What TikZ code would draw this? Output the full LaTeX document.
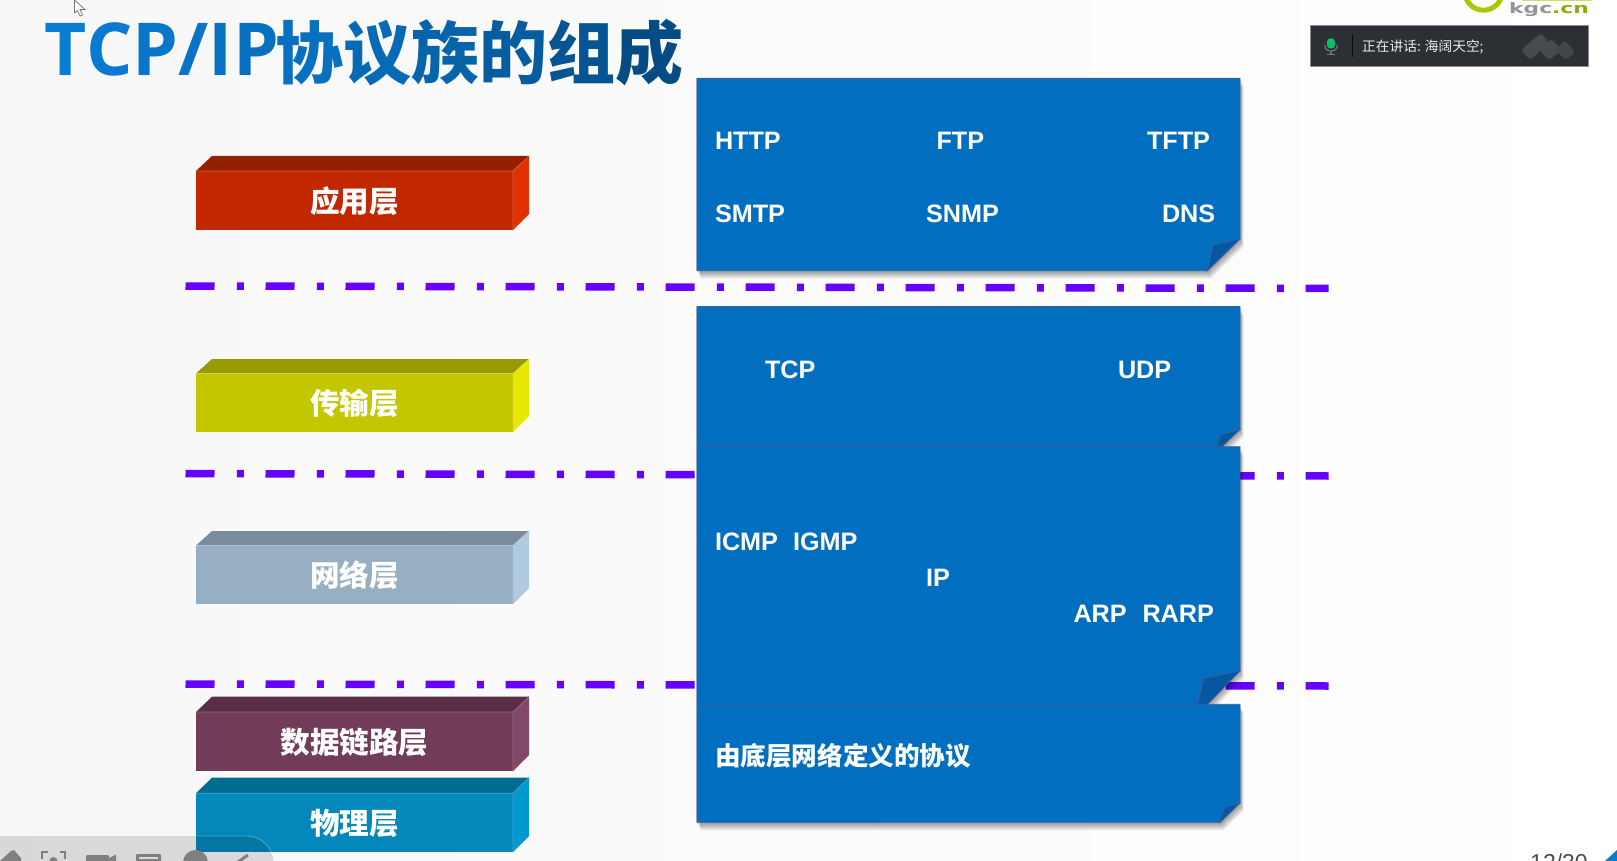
\documentclass[tikz,border=0pt]{standalone}
\usepackage{fontspec}
\usepackage{graphicx}
\setmainfont{Liberation Sans}
\newfontfamily\cjk{Noto Sans CJK SC}
\newfontfamily\headfont{Open Sans}
\newfontfamily\logofont{DejaVu Sans}

\definecolor{noteblue}{HTML}{026EC0}
\definecolor{noteedge}{HTML}{3C5FA0}
\definecolor{notefold}{HTML}{05589F}
\definecolor{ruleviolet}{HTML}{6600FF}
\definecolor{appF}{HTML}{C12800}\definecolor{appT}{HTML}{942000}\definecolor{appR}{HTML}{E23000}
\definecolor{traF}{HTML}{C3C700}\definecolor{traT}{HTML}{979A00}\definecolor{traR}{HTML}{E6E800}
\definecolor{netF}{HTML}{97AFC2}\definecolor{netT}{HTML}{7B8D9C}\definecolor{netR}{HTML}{B0CADF}
\definecolor{lnkF}{HTML}{723B57}\definecolor{lnkT}{HTML}{5A2F45}\definecolor{lnkR}{HTML}{824868}
\definecolor{phyF}{HTML}{0487BA}\definecolor{phyT}{HTML}{006B90}\definecolor{phyR}{HTML}{0299CE}
\definecolor{logogreen}{HTML}{A8C800}
\definecolor{panel}{HTML}{2C2F33}
\definecolor{panelmark}{HTML}{484B4E}
\definecolor{micgreen}{HTML}{0CC06A}
\definecolor{t1}{HTML}{0A7ED2}\definecolor{t2}{HTML}{097AD0}\definecolor{t3}{HTML}{0877CB}
\definecolor{t4}{HTML}{0874C6}\definecolor{t5}{HTML}{0772C4}\definecolor{t6}{HTML}{0770C0}
\definecolor{t7}{HTML}{066AB6}\definecolor{t8}{HTML}{0664AB}\definecolor{t9}{HTML}{055C9F}
\definecolor{t10}{HTML}{055493}\definecolor{t11}{HTML}{054C84}

\tikzset{
  x=1pt, y=-1pt,
  lbl/.style={inner sep=0pt, outer sep=0pt, anchor=base west, text=white,
    font=\fontsize{25.2}{25.2}\selectfont\bfseries},
  cjklbl/.style={inner sep=0pt, outer sep=0pt, anchor=base, text=white,
    font=\fontsize{29.6}{29.6}\selectfont\cjk\bfseries},
  layerrule/.style={draw=ruleviolet, line width=7.5pt,
    dash pattern=on 29pt off 22.4pt on 7pt off 21.6pt},
  icon/.style={fill=black!50}
}

% three-dimensional bar: name, top, front top, bottom, colour prefix, label
\newcommand{\layerbar}[6]{%
  \fill[#5T] (196,#3) -- (212,#2) -- (529,#2) -- (513,#3) -- cycle;
  \fill[#5R] (513,#3) -- (529,#2) -- (529,{#4-16}) -- (513,#4) -- cycle;
  \fill[#5F] (196,#3) rectangle (513,#4);
  \draw[#5F!75!white, line width=.7pt] (196,#3) -- (513,#3) -- (513,#4) (513,#3) -- (529,#2);
  \node[cjklbl] (#1) at (354.5,{(#3+#4)/2+12}) {#6};
}

% note sheet with a curled corner: top, right edge end, bottom, corner x on the
% bottom edge, fold inner x, fold inner y, fold foot x
\newcommand{\notesheet}[7]{%
  \foreach \d in {1,...,8}
    \fill[black, opacity=.055, shift={({\d*.45},\d)}]
      (697,#1) -- (1240,#1) -- (1240,#2) -- (#4,#3) -- (697,#3) -- cycle;
  \fill[black, opacity=.18, shift={(-1.5,0)}] (697,#1) rectangle (699,#3);
  \filldraw[fill=noteblue, draw=noteedge, line width=.8pt]
    (697,#1) -- (1240,#1) -- (1240,#2) -- (#4,#3) -- (697,#3) -- cycle;
  \filldraw[fill=notefold, draw=noteedge, line width=.8pt]
    (1240,#2) -- (#5,#6) -- (#7,#3) -- (#4,#3) -- cycle;
}

\begin{document}
\begin{tikzpicture}
\useasboundingbox (0,0) rectangle (1617,861);
\clip (0,0) rectangle (1617,861);

% page background
\shade[left color=black!3, right color=white] (0,0) rectangle (1617,861);

% heading
\node[inner sep=0pt, anchor=base west, font=\fontsize{73}{73}\selectfont\headfont\bfseries] (headlatin) at (44,76)
  {\textcolor{t1}{T}\textcolor{t2}{C}\textcolor{t3}{P}\textcolor{t4}{/}\textcolor{t5}{I}\textcolor{t6}{P}};
\node[inner sep=0pt, anchor=base west, font=\fontsize{68}{68}\selectfont\cjk\bfseries] (headcjk) at (275,79)
  {\textcolor{t6}{协}\textcolor{t7}{议}\textcolor{t8}{族}\textcolor{t9}{的}\textcolor{t10}{组}\textcolor{t11}{成}};

% pointer
\filldraw[fill=white, draw=black!55, line width=.7pt]
  (74.5,0) -- (74.5,13) -- (77.5,10.5) -- (80,16) -- (82.5,15) -- (80,9.5) -- (85,9.5) -- cycle;

% layer bars
\layerbar{app}{156}{171}{230}{app}{应用层}
\layerbar{tra}{359}{373.5}{432}{tra}{传输层}
\layerbar{net}{531}{545.5}{604}{net}{网络层}
\layerbar{lnk}{696.7}{712}{771}{lnk}{数据链路层}
\layerbar{phy}{777.7}{793.3}{852}{phy}{物理层}

% separators between the layers
\coordinate (ruleAa) at (185.5,286);   \coordinate (ruleAb) at (1328.7,288.4);
\coordinate (ruleBa) at (185.5,473.6); \coordinate (ruleBb) at (1328.7,476);
\coordinate (ruleCa) at (185.5,684);   \coordinate (ruleCb) at (1328.7,686);
\draw[layerrule] (ruleAa) -- (ruleAb);
\draw[layerrule] (ruleBa) -- (ruleBb);
\draw[layerrule] (ruleCa) -- (ruleCb);

% protocol sheets, stacked from top to bottom
\notesheet{78.4}{238.7}{270.7}{1207.3}{1212.7}{245}{1207.3}
\notesheet{306.5}{429.3}{446.7}{1221.7}{1220}{435}{1216.7}
\notesheet{446.7}{670.7}{704.3}{1207.3}{1203.3}{678.3}{1197.7}
\notesheet{704.3}{802.7}{822.3}{1220}{1224}{807.3}{1220}

\node[lbl] (http) at (715,149.7) {HTTP};
\node[lbl] (ftp)  at (936.5,149.7) {FTP};
\node[lbl] (tftp) at (1147,149.7) {TFTP};
\node[lbl] (smtp) at (715,223) {SMTP};
\node[lbl] (snmp) at (926,223) {SNMP};
\node[lbl] (dns)  at (1162,223) {DNS};
\node[lbl] (tcp)  at (765,378) {TCP};
\node[lbl] (udp)  at (1118,378) {UDP};
\node[lbl] (icmp) at (715,550.4) {ICMP};
\node[lbl] (igmp) at (793,550.4) {IGMP};
\node[lbl] (ip)   at (926,586.5) {IP};
\node[lbl] (arp)  at (1073.5,622.6) {ARP};
\node[lbl] (rarp) at (1142.5,622.6) {RARP};
\node[lbl, font=\fontsize{25.6}{25.6}\selectfont\cjk\bfseries] (lower) at (715,765) {由底层网络定义的协议};

% logo in the corner
\draw[logogreen, line width=5pt] (1483.5,-8.6) circle[radius=18.8];
\fill[logogreen, opacity=.6] (1523,0) rectangle (1592,.8);
\node[inner sep=0pt, anchor=base west, font=\fontsize{14.5}{14.5}\selectfont\logofont\bfseries] (logotext) at (1509,13.3)
  {\scalebox{1.5}[1]{\textcolor{black!42}{kgc}\textcolor{logogreen!85!black}{.cn}}};

% speaker indicator
\filldraw[fill=panel, draw=black!45, line width=.6pt] (1310.7,25.3) rectangle (1588.3,66.7);
\draw[black!55, line width=1.2pt] (1325,45) -- (1325,46) .. controls (1325,53) and (1337,53) .. (1337,46) -- (1337,45);
\draw[black!55, line width=1.2pt] (1331,51) -- (1331,54) (1327,54.5) -- (1335,54.5);
\fill[micgreen, rounded corners=3.5pt] (1327,38.3) rectangle (1335,48.5);
\draw[black!95, line width=1pt] (1352,35) -- (1352,56.7);
\node[inner sep=0pt, anchor=west, text=white!92!black, font=\fontsize{13.7}{13.7}\selectfont\cjk] (speaker) at (1362,46.7) {正在讲话: 海阔天空;};
\fill[panelmark, rounded corners=3pt] (1541,33) -- (1549,43) -- (1530,60) -- (1521,50) -- cycle;
\fill[panelmark, rounded corners=3pt] (1551,39) -- (1562,50) -- (1549,60) -- (1539,50) -- cycle;
\fill[panelmark!85!panel, rounded corners=3pt] (1565,40) -- (1575,52) -- (1566,60) -- (1555,50) -- cycle;

% slide counter and corner mark
\node[inner sep=0pt, anchor=base west, text=black!70, font=\fontsize{23}{23}\selectfont] (counter) at (1530,870) {12/30};
\fill[t2] (1605,861) -- (1617,850) -- (1617,861) -- cycle;

% presenter toolbar
\fill[black, opacity=.12] (0,836) -- (246,836) .. controls (262,836) and (272,848) .. (274,861) -- (0,861) -- cycle;
\draw[white, opacity=.3, line width=.8pt] (196,836) -- (246,836) .. controls (262,836) and (272,848) .. (274,861);
\fill[icon] (0,861) -- (11,851) -- (14,850) -- (21,858) -- (21,861) -- cycle;
\draw[black!50, line width=2.4pt] (42,859) -- (42,852) -- (48,852) (60,852) -- (65,852) -- (65,859);
\fill[icon] (53.5,861) circle[radius=4];
\fill[icon, rounded corners=1pt] (86,855) rectangle (109,866);
\fill[icon] (109,858) -- (116,854.5) -- (116,866) -- (109,866) -- cycle;
\fill[icon, rounded corners=1pt] (136,854) rectangle (161,866);
\fill[black!15] (139,857) rectangle (158,858.5);
\fill[icon] (195.5,862.5) circle[radius=12.5];
\draw[black!50, line width=3pt] (248,855) -- (238,862);
\end{tikzpicture}
\end{document}
